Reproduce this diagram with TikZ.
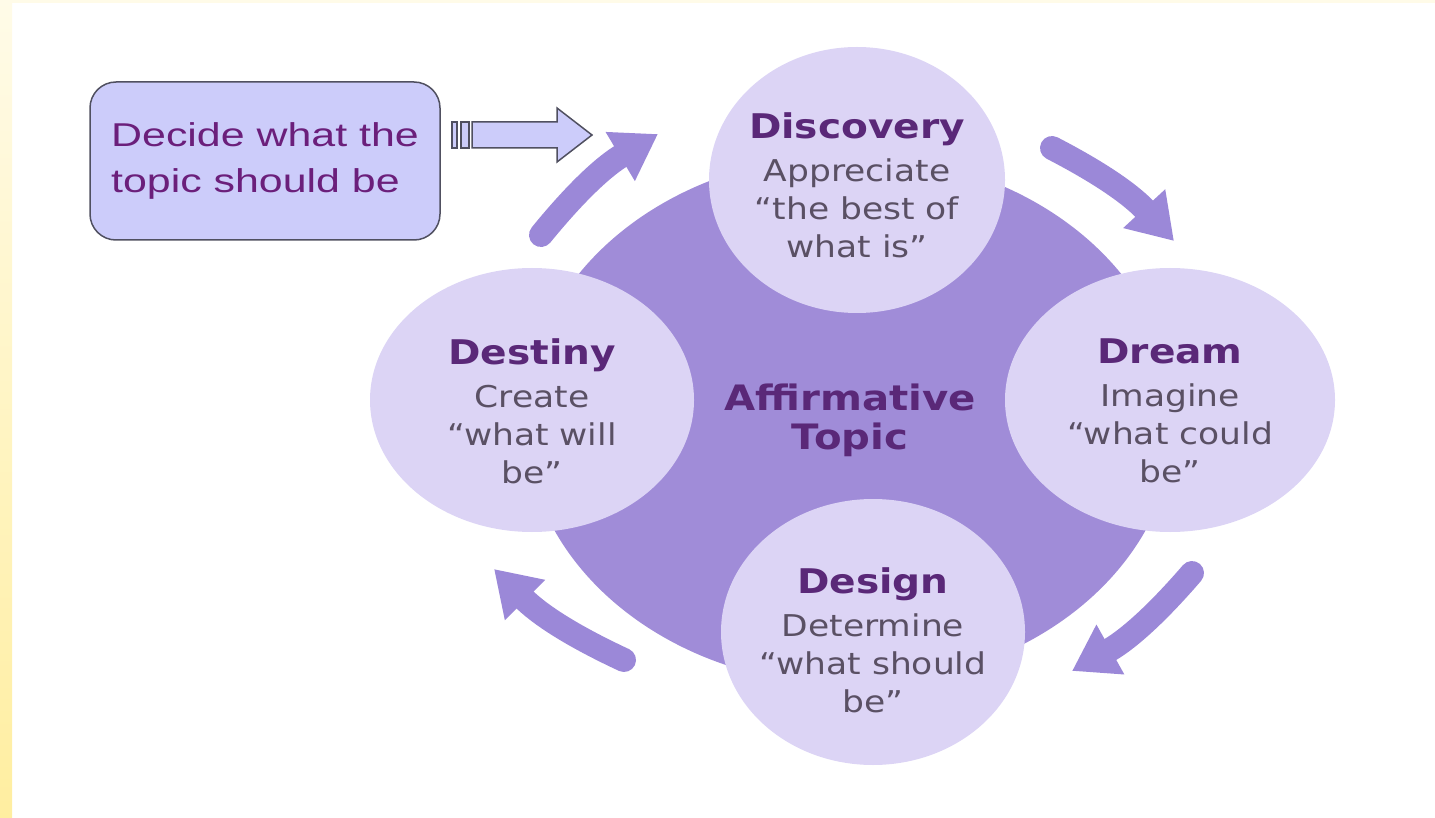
\documentclass[tikz,border=0pt]{standalone}
\usepackage{fontspec}
\usepackage{xcolor}
\usetikzlibrary{shapes.geometric,arrows.meta,positioning}
\newfontfamily\phasefont[FakeStretch=1.15]{DejaVu Sans}
\newfontfamily\boxfont[FakeStretch=1.3]{Liberation Sans}
\definecolor{ringcol}{HTML}{A08CD8}
\definecolor{cyclecol}{HTML}{9B88D8}
\definecolor{phasecol}{HTML}{DCD4F5}
\definecolor{titlecol}{HTML}{5A2878}
\definecolor{greytxt}{HTML}{5A5064}
\definecolor{boxfill}{HTML}{CCCCFA}
\definecolor{boxline}{HTML}{505060}
\definecolor{boxtxt}{HTML}{6B1F7B}
\definecolor{edgetop}{HTML}{FFFBE8}
\definecolor{edgebot}{HTML}{FFEEA0}
\newcommand{\phasetitle}[1]{{\color{titlecol}\fontsize{34}{40}\selectfont\bfseries #1}}

\begin{document}
\begin{tikzpicture}[x=1pt,y=-1pt,
				phase/.style={ellipse, fill=phasecol, inner sep=0pt},
				phasetext/.style={align=center, text=greytxt, inner sep=0pt,
					font=\phasefont\fontsize{30}{38}\selectfont},
				cyclearrow/.style={draw=cyclecol, line width=24pt, line cap=round,
					-{Triangle[length=44pt,width=54pt]}, bend left=10},
				blockarrow/.style={draw=boxline, fill=boxfill, line width=1.5pt, line join=miter}
				]
				\useasboundingbox (0,0) rectangle (1435,818);
				% yellow slide edge
				\fill[top color=edgetop, bottom color=edgebot] (0,0) rectangle (12,818);
				\fill[edgetop] (0,0) rectangle (1435,3);
				
				% centre
				\node[ellipse, fill=ringcol, minimum width=650pt, minimum height=530pt,
				text=titlecol, align=center, font=\phasefont\fontsize{35}{39}\selectfont\bfseries]
				(topic) at (850,420) {Affirmative\\Topic};
				
				% cycle arrows
				\coordinate (tailA) at (541,235);  \coordinate (tipA) at (658,134);
				\coordinate (tailB) at (1052,148); \coordinate (tipB) at (1174,241);
				\coordinate (tailC) at (1192,573); \coordinate (tipC) at (1072,671);
				\coordinate (tailD) at (624,660);  \coordinate (tipD) at (494,569);
				\draw[cyclearrow] (tailA) to (tipA);
				\draw[cyclearrow] (tailB) to (tipB);
				\draw[cyclearrow] (tailC) to (tipC);
				\draw[cyclearrow] (tailD) to (tipD);
				
				% phases
				\node[phase, minimum width=296pt, minimum height=266pt] (discovery) at (857,180) {};
				\node[phase, minimum width=330pt, minimum height=264pt] (dream) at (1170,400) {};
				\node[phase, minimum width=304pt, minimum height=266pt] (design) at (873,632) {};
				\node[phase, minimum width=324pt, minimum height=264pt] (destiny) at (532,400) {};
				
				\node[phasetext] (discoverytext) at ([yshift=-5pt]discovery.center)
				{\phasetitle{Discovery}\\[5pt]Appreciate\\“the best of\\what is”};
				\node[phasetext] (dreamtext) at ([yshift=-11pt]dream.center)
				{\phasetitle{Dream}\\[5pt]Imagine\\“what could\\be”};
				\node[phasetext] (designtext) at ([yshift=-8pt]design.center)
				{\phasetitle{Design}\\[5pt]Determine\\“what should\\be”};
				\node[phasetext] (destinytext) at ([yshift=-11pt]destiny.center)
				{\phasetitle{Destiny}\\[5pt]Create\\“what will\\be”};
				
				% starting box
				\node[draw=boxline, line width=1.5pt, fill=boxfill, rounded corners=26pt,
				minimum width=350pt, minimum height=158pt, align=left, text=boxtxt,
				font=\boxfont\fontsize{33}{46}\selectfont] (decide) at (265,161)
				{Decide what the\\topic should be};
				\draw[blockarrow] (472,122) -- (557,122) -- (557,108) -- (592,135)
				-- (557,162) -- (557,148) -- (472,148) -- cycle;
				\draw[blockarrow] (452,122) rectangle (457,148);
				\draw[blockarrow] (461,122) rectangle (469,148);
			\end{tikzpicture}
\end{document}
